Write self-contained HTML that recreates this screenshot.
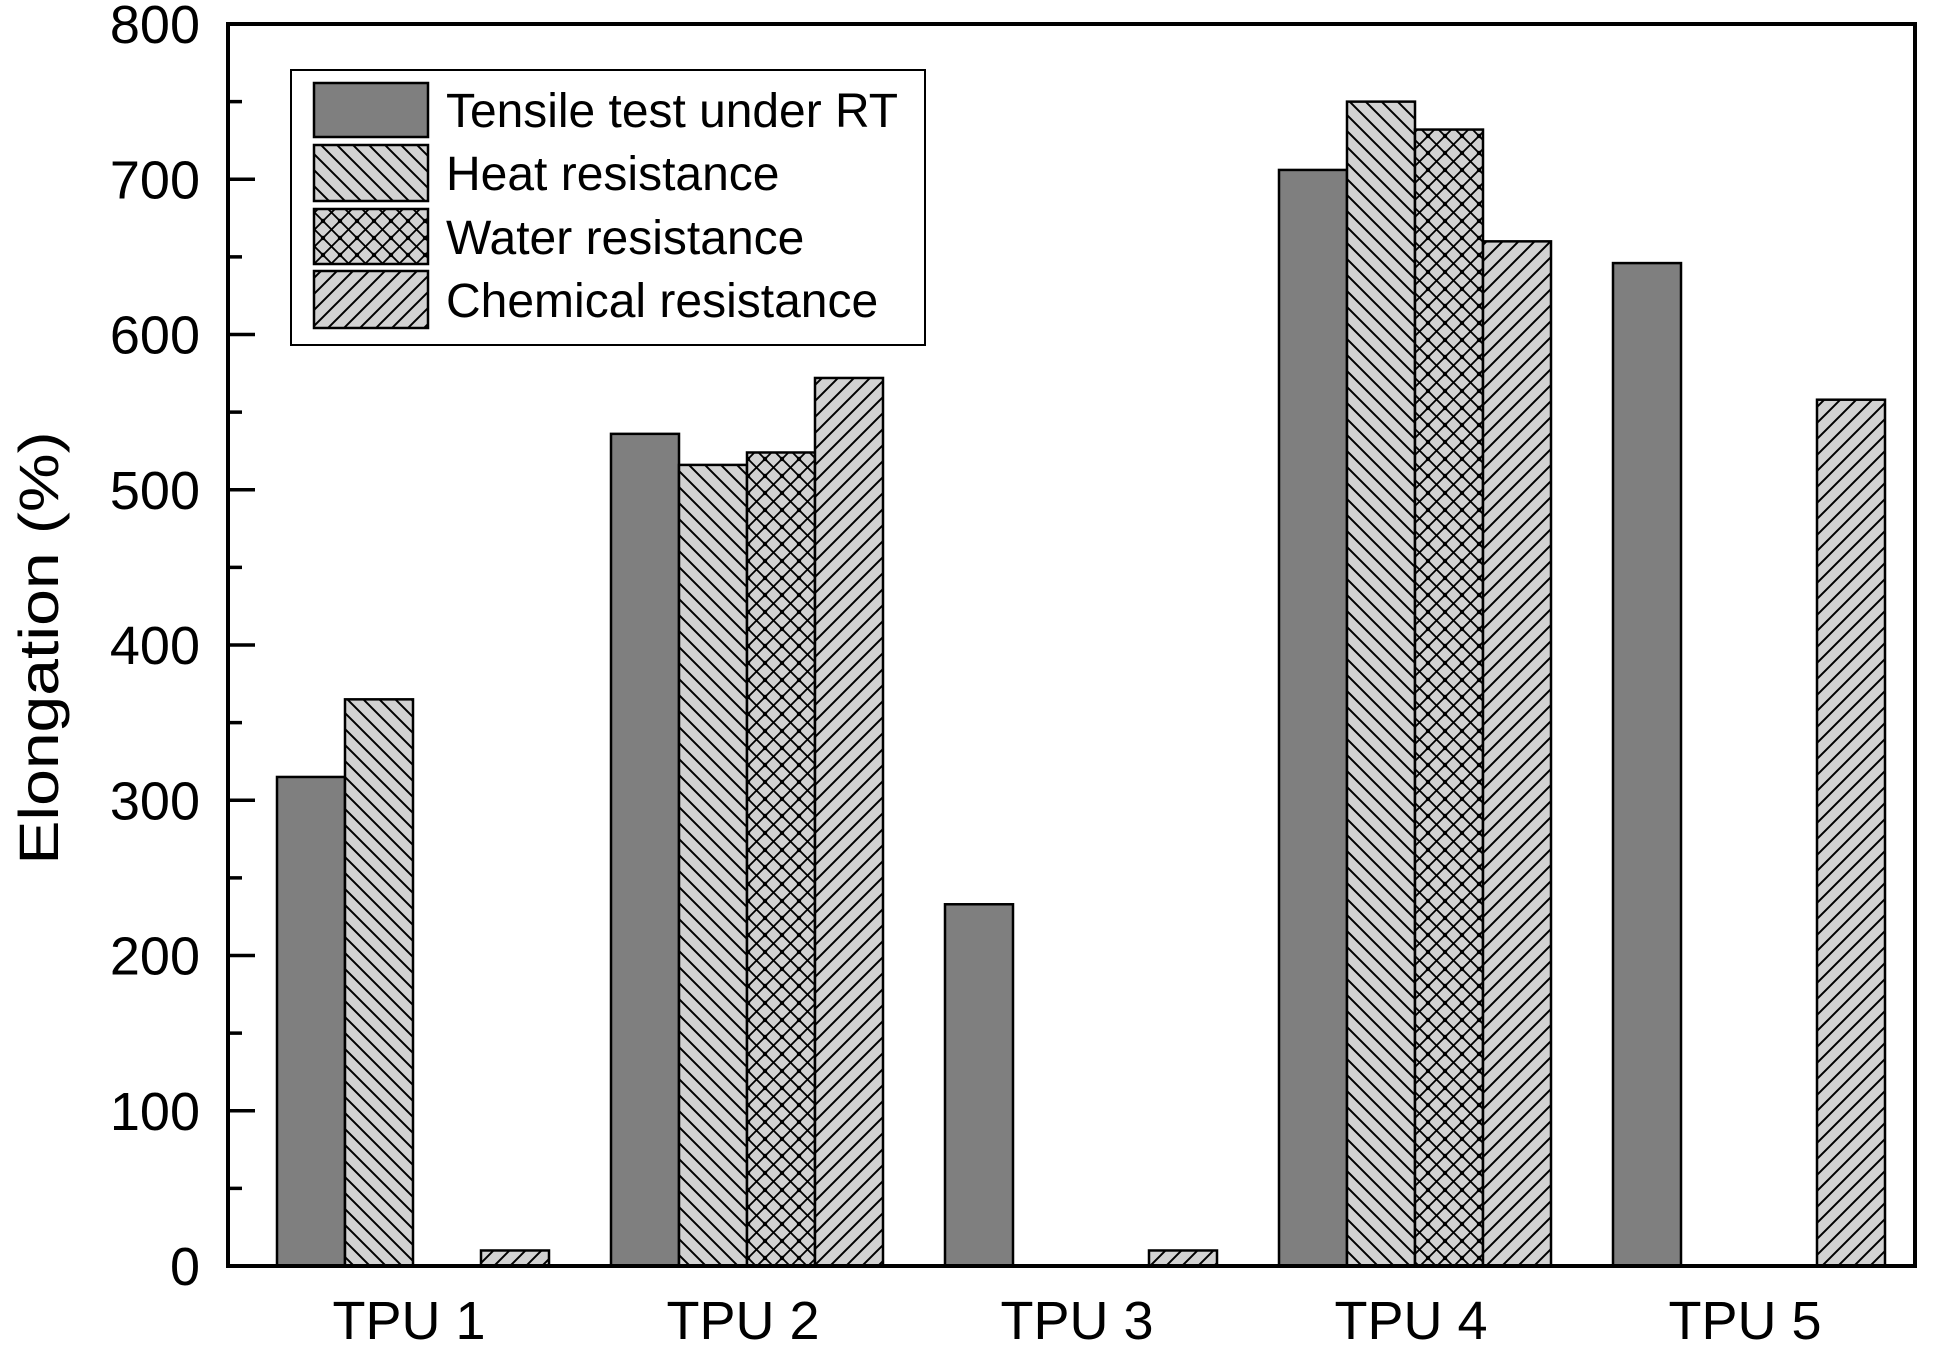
<!DOCTYPE html>
<html><head><meta charset="utf-8"><style>
html,body{margin:0;padding:0;background:#fff;}
svg{display:block;font-family:"Liberation Sans",Arial,sans-serif;}
</style></head><body>
<svg id="chart" width="1934" height="1354" viewBox="0 0 1934 1354" xmlns="http://www.w3.org/2000/svg">
<defs>
<pattern id="pHeat" patternUnits="userSpaceOnUse" width="16" height="16">
<rect width="16" height="16" fill="#d2d2d2"/>
<path d="M-4,-4 L20,20 M-4,12 L4,20 M12,-4 L20,4" stroke="#000" stroke-width="2"/>
</pattern>
<pattern id="pWater" patternUnits="userSpaceOnUse" width="17" height="17">
<rect width="17" height="17" fill="#d2d2d2"/>
<path d="M-2,-2 L19,19 M-2,19 L19,-2" stroke="#000" stroke-width="1.8"/>
<circle cx="0" cy="0" r="2.2"/><circle cx="17" cy="0" r="2.2"/><circle cx="0" cy="17" r="2.2"/><circle cx="17" cy="17" r="2.2"/>
</pattern>
<pattern id="pChem" patternUnits="userSpaceOnUse" width="16" height="16">
<rect width="16" height="16" fill="#d2d2d2"/>
<path d="M-4,20 L20,-4 M-4,4 L4,-4 M12,20 L20,12" stroke="#000" stroke-width="2"/>
</pattern>
</defs>
<g id="bars"></g>
<g id="axes"></g>
<text transform="translate(58,648) rotate(-90) scale(1.18,1)" text-anchor="middle" font-size="56">Elongation (%)</text>
<g>
<rect x="291" y="70" width="634" height="275" fill="#fff" stroke="#000" stroke-width="2"/>
<g><rect x="314" y="83" width="114" height="54" fill="#7f7f7f" stroke="#000" stroke-width="2.5"/><text x="446" y="127" font-size="48" textLength="452" lengthAdjust="spacingAndGlyphs">Tensile test under RT</text></g>
<g><rect x="314" y="145" width="114" height="56" fill="url(#pHeat)" stroke="#000" stroke-width="2.5"/><text x="446" y="190" font-size="48">Heat resistance</text></g>
<g><rect x="314" y="209" width="114" height="55" fill="url(#pWater)" stroke="#000" stroke-width="2.5"/><text x="446" y="254" font-size="48">Water resistance</text></g>
<g><rect x="314" y="271" width="114" height="57" fill="url(#pChem)" stroke="#000" stroke-width="2.5"/><text x="446" y="317" font-size="48">Chemical resistance</text></g>
</g>
</svg>
<script>
const categories = ["TPU 1","TPU 2","TPU 3","TPU 4","TPU 5"];
const rtValues = [315, 536, 233, 706, 646];
const heatValues = [365, 516, 0, 750, 0];
const waterValues = [0, 524, 0, 732, 0];
const chemValues = [10, 572, 10, 660, 558];
const yTicks = [0,100,200,300,400,500,600,700,800];

const NS = "http://www.w3.org/2000/svg";
const L = 228, R = 1915, T = 24, B = 1266;
const yMax = 800;
function y(v){ return B - (v / yMax) * (B - T); }
const groupStart = 277, groupStep = 334, barW = 68;
function xBar(i, s){ return groupStart + i * groupStep + s * barW; }
function xCenter(i){ return groupStart + i * groupStep + 2 * barW; }

const barsG = document.getElementById('bars');
const series = [
  {vals: rtValues, fill: '#7f7f7f', name: 'rt'},
  {vals: heatValues, fill: 'url(#pHeat)', name: 'heat'},
  {vals: waterValues, fill: 'url(#pWater)', name: 'water'},
  {vals: chemValues, fill: 'url(#pChem)', name: 'chemical'}
];
series.forEach((s, si) => {
  s.vals.forEach((v, i) => {
    if (v <= 0) return;
    const r = document.createElementNS(NS, 'rect');
    
    
    r.setAttribute('x', xBar(i, si));
    r.setAttribute('y', y(v));
    r.setAttribute('width', barW);
    r.setAttribute('height', B - y(v));
    r.setAttribute('fill', s.fill);
    r.setAttribute('stroke', '#000');
    r.setAttribute('stroke-width', '2.5');
    barsG.appendChild(r);
  });
});

const ax = document.getElementById('axes');
const frame = document.createElementNS(NS, 'rect');


frame.setAttribute('x', L); frame.setAttribute('y', T);
frame.setAttribute('width', R - L); frame.setAttribute('height', B - T);
frame.setAttribute('fill', 'none'); frame.setAttribute('stroke', '#000'); frame.setAttribute('stroke-width', '4');
ax.appendChild(frame);

for (let v = 0; v <= yMax; v += 50) {
  const major = v % 100 === 0;
  const ln = document.createElementNS(NS, 'line');
  
  
  ln.setAttribute('x1', L); ln.setAttribute('x2', L + (major ? 27 : 14));
  ln.setAttribute('y1', y(v)); ln.setAttribute('y2', y(v));
  ln.setAttribute('stroke', '#000'); ln.setAttribute('stroke-width', '3.5');
  ax.appendChild(ln);
}
yTicks.forEach(v => {
  const t = document.createElementNS(NS, 'text');
  
  
  t.setAttribute('x', 200); t.setAttribute('y', y(v) + 19);
  t.setAttribute('text-anchor', 'end'); t.setAttribute('font-size', '54');
  t.textContent = v;
  ax.appendChild(t);
});
categories.forEach((c, i) => {
  const t = document.createElementNS(NS, 'text');
  
  
  t.setAttribute('x', xCenter(i) - 4); t.setAttribute('y', 1339);
  t.setAttribute('text-anchor', 'middle'); t.setAttribute('font-size', '54');
  t.textContent = c;
  ax.appendChild(t);
});
</script>
</body></html>
